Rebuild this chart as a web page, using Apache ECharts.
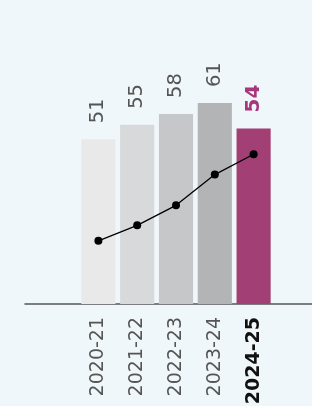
<!DOCTYPE html>
<html>
<head>
<meta charset="utf-8">
<script src="https://cdn.jsdelivr.net/npm/echarts@6/dist/echarts.min.js"></script>
<style>
  html, body { margin: 0; padding: 0; background: #f0f7fb; }
  #chart { width: 312px; height: 406px; }
</style>
</head>
<body>
<div id="chart"></div>
<script>
// chart data
const categories = ['2020-21', '2021-22', '2022-23', '2023-24', '2024-25']
const barValues = [51, 55, 58, 61, 54]
const lineValues = [22.4, 27.9, 35.0, 45.9, 53.1]
const barColors = ['#e9e9ea', '#d8d9da', '#c6c7c8', '#b3b4b5', '#a23f74']

const last = categories.length - 1
const font = 'DejaVu Sans'

const chart = echarts.init(document.getElementById('chart'))
chart.setOption({
  backgroundColor: '#f0f7fb',
  animation: false,
  grid: [
    { left: 79, right: 39, top: 22, bottom: 102, outerBoundsMode: 'none' },
    { left: 25, right: 0, top: 22, bottom: 102, outerBoundsMode: 'none' } // only for the long base line
  ],
  xAxis: [{
    type: 'category',
    gridIndex: 0,
    data: categories.map((c, i) => i === last
      ? { value: c, textStyle: { fontWeight: 'bold', color: '#111' } }
      : c),
    axisLine: { show: false },
    axisTick: { show: false },
    axisLabel: {
      rotate: 90,
      margin: 13,
      fontFamily: font,
      fontSize: 19,
      color: '#555'
    }
  }, {
    type: 'value',
    gridIndex: 1,
    min: 0,
    max: 1,
    axisLine: { show: true, onZero: false, lineStyle: { color: '#555', width: 1.5 } },
    axisTick: { show: false },
    axisLabel: { show: false },
    splitLine: { show: false }
  }],
  yAxis: [{
    type: 'value',
    gridIndex: 0,
    min: 5.5,
    max: 83.4,
    show: false
  }, {
    type: 'value',
    gridIndex: 0,
    min: 0,
    max: 100,
    show: false
  }, {
    type: 'value',
    gridIndex: 1,
    show: false
  }],
  series: [
    {
      type: 'bar',
      barCategoryGap: '12%',
      data: barValues.map((v, i) => ({
        value: v,
        itemStyle: { color: barColors[i] },
        label: i === last ? { color: '#a8367a', fontWeight: 'bold', fontSize: 20 } : {}
      })),
      label: {
        show: true,
        position: 'top',
        distance: 16,
        rotate: 90,
        align: 'left',
        verticalAlign: 'middle',
        fontFamily: font,
        fontSize: 19.5,
        color: '#555'
      }
    },
    {
      type: 'line',
      yAxisIndex: 1,
      data: lineValues,
      symbol: 'circle',
      symbolSize: 8,
      itemStyle: { color: '#000' },
      lineStyle: { color: '#000', width: 1.3 }
    }
  ]
})
</script>
</body>
</html>
